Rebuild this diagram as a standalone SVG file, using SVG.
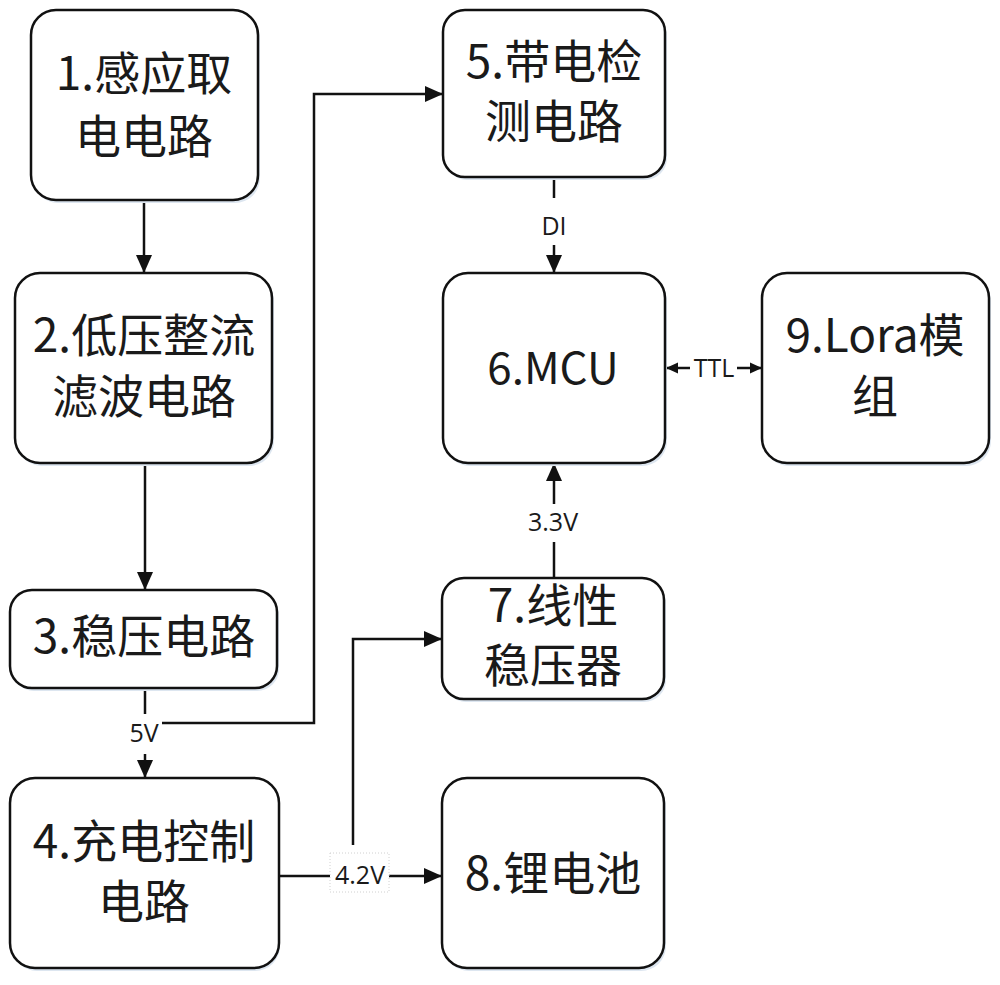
<svg xmlns="http://www.w3.org/2000/svg" width="1000" height="985" viewBox="0 0 1000 985">
  <style>
    .box { fill: #ffffff; stroke: #111111; stroke-width: 2.5; }
    .shadow { fill: #dde6f0; stroke: none; }
    .t { font-family: "Noto Sans CJK SC", "Noto Sans", sans-serif; font-size: 46px; fill: #1a1a1a; text-anchor: middle; }
    .lbl { font-family: "Open Sans", "Noto Sans", sans-serif; font-size: 25px; fill: #1a1a1a; text-anchor: middle; }
    .conn { fill: none; stroke: #111111; stroke-width: 2.5; }
  </style>
  <defs>
    <marker id="arr" markerUnits="userSpaceOnUse" markerWidth="18" markerHeight="18" refX="18" refY="9" orient="auto">
      <path d="M0,1 L18,9 L0,17 z" fill="#111111"/>
    </marker>
    <marker id="arrs" markerUnits="userSpaceOnUse" markerWidth="12" markerHeight="12" refX="12" refY="6" orient="auto">
      <path d="M0,0.5 L12,6 L0,11.5 z" fill="#111111"/>
    </marker>
  </defs>
  <rect width="1000" height="985" fill="#ffffff"/>

  <g id="connectors">
    <!-- 1 -> 2 -->
    <line class="conn" x1="144" y1="200" x2="144" y2="273" marker-end="url(#arr)"/>
    <!-- 2 -> 3 -->
    <line class="conn" x1="145" y1="463" x2="145" y2="590" marker-end="url(#arr)"/>
    <!-- 3 -> 4 with 5V -->
    <line class="conn" x1="145" y1="688" x2="145" y2="714"/>
    <line class="conn" x1="145" y1="754" x2="145" y2="778" marker-end="url(#arr)"/>
    <text class="lbl" x="144" y="742">5V</text>
    <!-- 5V branch -> 5 -->
    <path class="conn" d="M162,723 L314,723 L314,94 L443,94" marker-end="url(#arr)"/>
    <!-- 5 -> 6 DI -->
    <line class="conn" x1="554" y1="177" x2="554" y2="198"/>
    <line class="conn" x1="554" y1="245" x2="554" y2="273" marker-end="url(#arr)"/>
    <text class="lbl" x="554" y="235">DI</text>
    <!-- 7 -> 6 3.3V -->
    <line class="conn" x1="554" y1="578" x2="554" y2="542"/>
    <line class="conn" x1="554" y1="504" x2="554" y2="463" marker-end="url(#arr)"/>
    <text class="lbl" x="553" y="531">3.3V</text>
    <!-- 6 <-> 9 TTL -->
    <line class="conn" x1="690" y1="368" x2="666" y2="368" marker-end="url(#arrs)"/>
    <line class="conn" x1="737" y1="368" x2="762" y2="368" marker-end="url(#arrs)"/>
    <text class="lbl" x="714" y="377">TTL</text>
    <!-- 4 -> 8 4.2V -->
    <line class="conn" x1="279" y1="876" x2="330" y2="876"/>
    <line class="conn" x1="389" y1="876" x2="442" y2="876" marker-end="url(#arr)"/>
    <!-- branch to 7 -->
    <path class="conn" d="M353,845 L353,639 L442,639" marker-end="url(#arr)"/>
    <rect x="330" y="853" width="59" height="39" fill="#ffffff" stroke="#d0d0d0" stroke-width="1" stroke-dasharray="1,2"/>
    <text class="lbl" x="360" y="884">4.2V</text>
  </g>

  <g id="node1">
    <rect class="shadow" x="33" y="13" width="227" height="190" rx="25"/>
    <rect class="box" x="31" y="10" width="227" height="190" rx="25"/>
    <text class="t" x="144" y="90">1.感应取</text>
    <text class="t" x="144" y="153">电电路</text>
  </g>
  <g id="node2">
    <rect class="shadow" x="17" y="276" width="257" height="190" rx="25"/>
    <rect class="box" x="15" y="273" width="257" height="190" rx="25"/>
    <text class="t" x="144" y="352">2.低压整流</text>
    <text class="t" x="144" y="413">滤波电路</text>
  </g>
  <g id="node3">
    <rect class="shadow" x="12" y="593" width="267" height="98" rx="22"/>
    <rect class="box" x="10" y="590" width="267" height="98" rx="22"/>
    <text class="t" x="144" y="653">3.稳压电路</text>
  </g>
  <g id="node4">
    <rect class="shadow" x="12" y="781" width="268" height="190" rx="25"/>
    <rect class="box" x="10" y="778" width="269" height="190" rx="25"/>
    <text class="t" x="144" y="858">4.充电控制</text>
    <text class="t" x="144" y="918">电路</text>
  </g>
  <g id="node5">
    <rect class="shadow" x="445" y="13" width="222" height="167" rx="22"/>
    <rect class="box" x="443" y="10" width="222" height="167" rx="22"/>
    <text class="t" x="554" y="78">5.带电检</text>
    <text class="t" x="554" y="138">测电路</text>
  </g>
  <g id="node6">
    <rect class="shadow" x="445" y="276" width="222" height="190" rx="25"/>
    <rect class="box" x="443" y="273" width="222" height="190" rx="25"/>
    <text class="t" x="553" y="384" style="font-size:44px">6.MCU</text>
  </g>
  <g id="node9">
    <rect class="shadow" x="764" y="276" width="227" height="190" rx="25"/>
    <rect class="box" x="762" y="273" width="227" height="190" rx="25"/>
    <text class="t" x="875" y="352">9.Lora模</text>
    <text class="t" x="875" y="413">组</text>
  </g>
  <g id="node7">
    <rect class="shadow" x="444" y="581" width="222" height="121" rx="22"/>
    <rect class="box" x="442" y="578" width="222" height="121" rx="22"/>
    <text class="t" x="553" y="622">7.线性</text>
    <text class="t" x="553" y="682">稳压器</text>
  </g>
  <g id="node8">
    <rect class="shadow" x="444" y="781" width="222" height="190" rx="25"/>
    <rect class="box" x="442" y="778" width="222" height="190" rx="25"/>
    <text class="t" x="553" y="890">8.锂电池</text>
  </g>
</svg>
